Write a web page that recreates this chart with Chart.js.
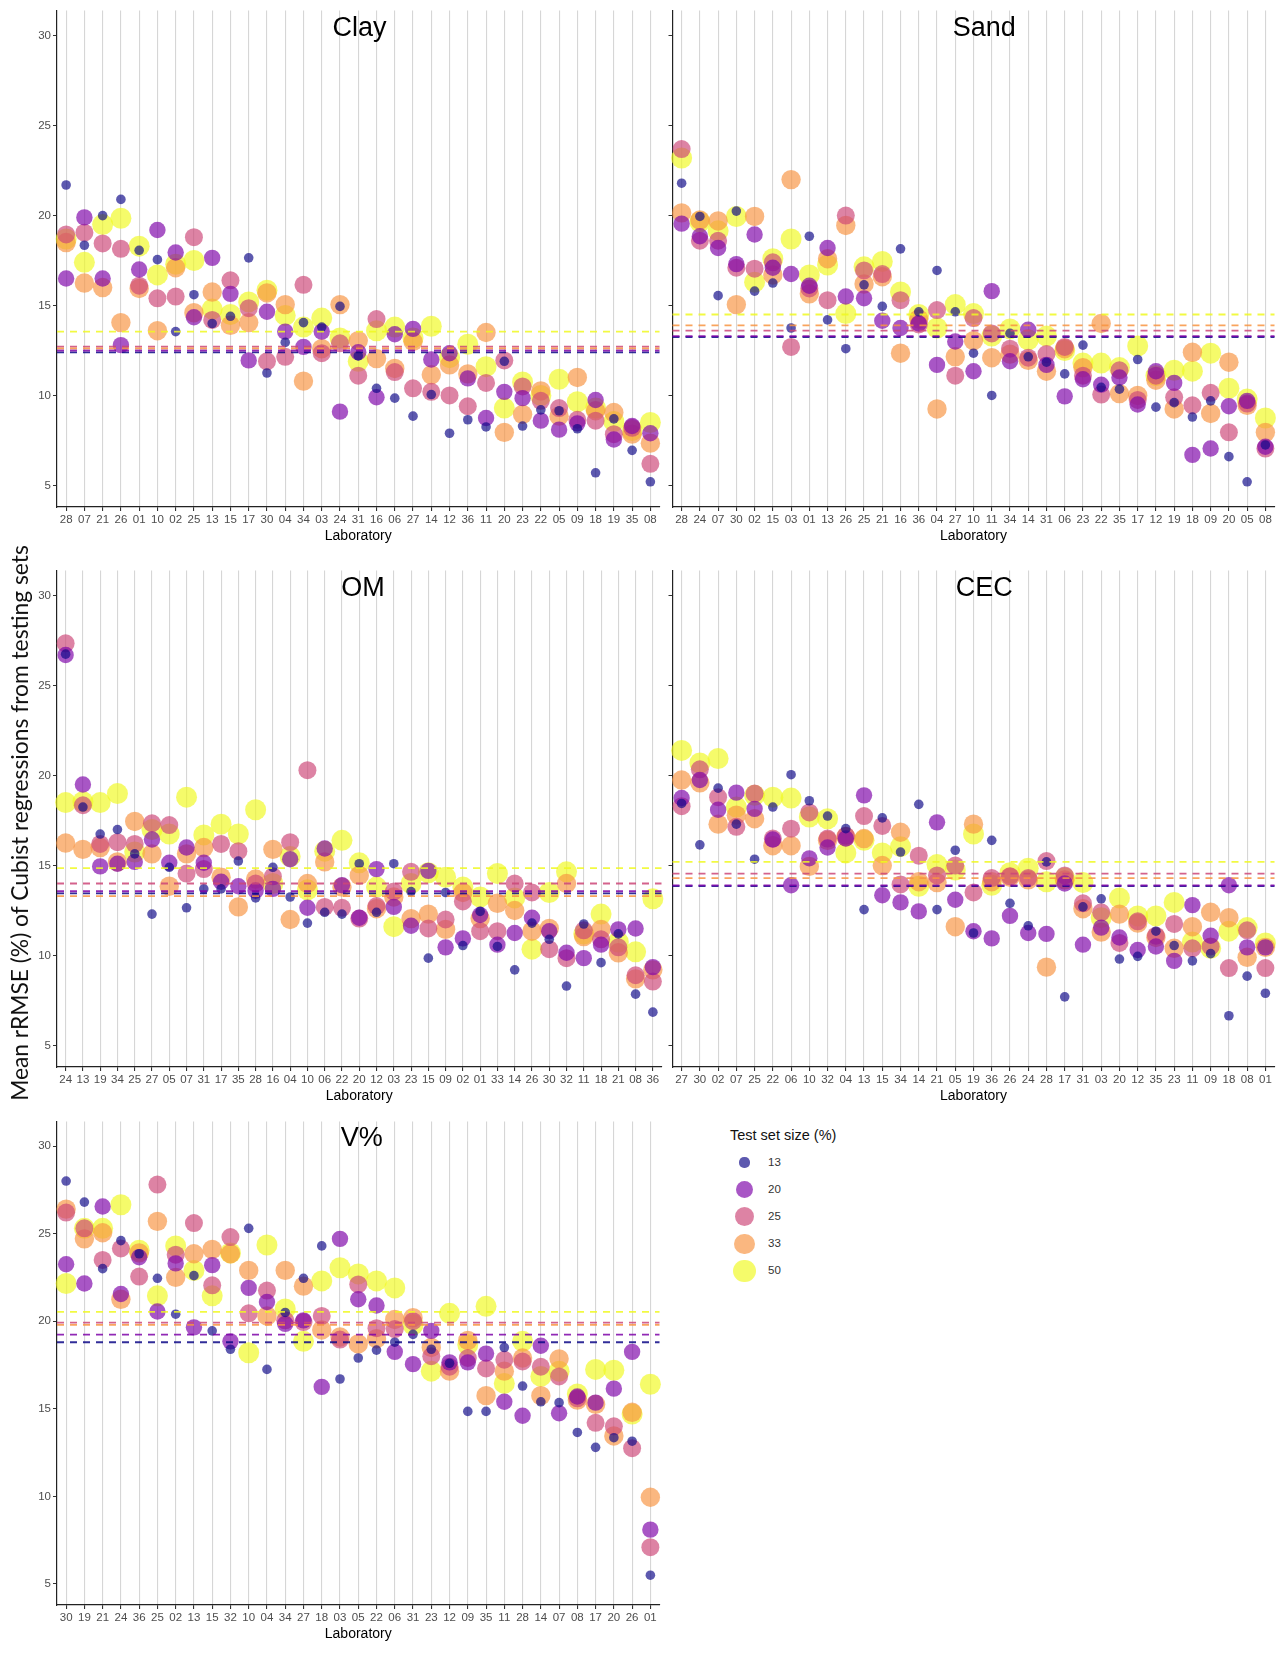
<!DOCTYPE html>
<html>
<head>
<meta charset="utf-8">
<script src="https://cdn.jsdelivr.net/npm/chart.js@4.4.1/dist/chart.umd.min.js"></script>
<style>
  body { margin: 0; background: #fff; width: 1285px; height: 1657px; position: relative; overflow: hidden;
         font-family: 'Liberation Sans', Arial, sans-serif; }
  .panel { position: absolute; }
  #ytitle { position: absolute; left: -301px; top: 806px; width: 640px; height: 34px; line-height: 34px;
            text-align: center; white-space: nowrap; transform: rotate(-90deg);
            font-family: Lato, 'Open Sans', sans-serif; font-size: 22.8px; color: #111; }
  #legend { position: absolute; left: 0; top: 0; }
  .lg-title { position: absolute; left: 730px; top: 1127px; font-size: 14.5px; color: #111; white-space: nowrap; }
  .lg-dot { position: absolute; border-radius: 50%; }
  .lg-lab { position: absolute; left: 768px; font-size: 11.5px; color: #333; white-space: nowrap; }
</style>
</head>
<body>
<div class="panel" style="left:30px;top:0;width:640px;height:545px"><canvas id="clay"></canvas></div>
<div class="panel" style="left:662px;top:0;width:623px;height:545px"><canvas id="sand"></canvas></div>
<div class="panel" style="left:30px;top:560px;width:642px;height:545px"><canvas id="om"></canvas></div>
<div class="panel" style="left:662px;top:560px;width:623px;height:545px"><canvas id="cec"></canvas></div>
<div class="panel" style="left:30px;top:1111px;width:640px;height:546px"><canvas id="vsat"></canvas></div>
<div id="ytitle">Mean rRMSE (%) of Cubist regressions from testing sets</div>
<div id="legend"><div class="lg-title">Test set size (%)</div></div>

<script>
// ---- data ----
const yTicks = [5, 10, 15, 20, 25, 30];
const testSizes = ['13', '20', '25', '33', '50'];

const clayLabs = ['28','07','21','26','01','10','02','25','13','15','17','30','04','34','03','24','31','16','06','27','14','12','36','11','20','23','22','05','09','18','19','35','08'];
const clay13 = [21.7,18.35,20.0,20.9,18.07,17.55,13.55,15.6,14.0,14.4,17.65,11.25,12.95,14.05,13.8,14.95,12.2,10.4,9.85,8.85,10.05,7.9,8.65,8.25,11.9,8.3,9.2,9.15,8.15,5.7,8.7,6.95,5.2];
const clay20 = [16.5,19.9,16.5,12.8,17.0,19.2,17.95,14.35,17.65,15.65,11.95,14.65,13.55,12.7,13.55,9.1,12.4,9.9,13.4,13.7,12.0,12.35,10.95,8.75,10.2,9.85,8.6,8.1,8.45,9.75,7.55,8.3,7.9];
const clay25 = [18.95,19.05,18.45,18.15,16.1,15.4,15.5,18.8,14.2,16.4,14.85,11.9,12.15,16.15,12.35,12.9,11.1,14.25,11.3,10.4,10.2,10.0,9.4,10.7,11.95,10.5,9.7,9.3,8.65,8.6,7.85,8.2,6.2];
const clay33 = [18.5,16.25,16.0,14.05,15.95,13.6,17.1,14.6,15.75,13.9,14.05,15.7,15.05,10.8,12.6,15.05,13.05,12.05,11.5,13.0,11.15,11.7,11.2,13.5,7.95,8.95,10.25,8.85,11.0,9.15,9.05,7.85,7.35];
const clay50 = [18.7,17.4,19.5,19.85,18.3,16.7,17.3,17.5,14.8,14.5,15.2,15.85,14.45,13.8,14.3,13.2,11.9,13.6,13.8,13.2,13.85,12.1,12.85,11.6,9.3,10.75,10.0,10.9,9.65,9.3,8.55,8.05,8.5];
const clayMeans = [12.4, 12.5, 12.72, 12.62, 13.55];

const sandLabs = ['28','24','07','30','02','15','03','01','13','26','25','21','16','36','04','27','10','11','34','14','31','06','23','22','35','17','12','19','18','09','20','05','08'];
const sand13 = [21.8,19.95,15.55,20.25,15.8,16.25,13.75,18.85,14.2,12.6,16.15,14.95,18.15,14.65,16.95,14.65,12.35,10.0,13.45,12.15,11.85,11.2,12.8,10.45,10.35,12.0,9.35,9.6,8.8,9.7,6.6,5.2,7.25];
const sand20 = [19.55,18.85,18.2,17.3,18.95,17.1,16.75,16.1,18.2,15.5,15.4,14.15,13.75,14.0,11.7,13.0,11.35,15.8,11.9,13.65,11.7,9.95,10.9,10.6,11.0,9.5,11.35,10.7,6.7,7.05,9.4,9.7,7.15];
const sand25 = [23.7,18.6,18.6,17.1,17.05,17.4,12.7,15.95,15.3,20.0,16.95,16.75,15.3,13.95,14.75,11.1,14.3,13.45,12.6,12.1,12.3,12.7,11.1,10.05,11.4,9.75,11.1,9.9,9.45,10.15,7.95,9.55,7.05];
const sand33 = [20.15,19.75,19.7,15.05,19.95,16.7,22.0,15.65,17.6,19.45,16.2,16.6,12.35,14.25,9.25,12.15,13.05,12.1,12.3,11.95,11.35,12.6,11.55,14.0,10.1,10.0,10.85,9.25,12.4,9.0,11.85,9.45,7.95];
const sand50 = [23.2,19.65,19.15,19.95,16.3,17.6,18.7,16.7,17.25,14.55,17.15,17.45,15.75,14.5,13.75,15.05,14.55,13.3,13.7,13.1,13.3,12.5,11.8,11.8,11.55,12.75,11.1,11.4,11.35,12.35,10.4,9.8,8.75];
const sandMeans = [13.25, 13.3, 13.6, 13.9, 14.5];

const omLabs = ['24','13','19','34','25','27','05','07','31','17','35','28','16','04','10','06','22','20','12','03','23','15','09','02','01','33','14','26','30','32','11','18','21','08','36'];
const om13 = [26.75,18.25,16.75,17.0,15.65,12.3,14.9,12.65,13.7,13.7,15.25,13.2,14.9,13.25,11.8,12.4,12.3,15.1,12.4,15.1,13.55,9.85,13.5,10.55,12.45,10.5,9.2,11.8,10.9,8.3,11.75,9.6,11.2,7.85,6.85];
const om20 = [26.7,19.5,14.95,15.1,15.2,16.45,15.15,16.0,15.15,14.1,13.85,13.6,13.7,15.35,12.65,15.95,13.9,12.1,14.8,12.7,11.65,14.7,10.45,10.95,12.25,10.6,11.25,12.1,11.35,10.15,9.85,10.6,11.45,11.5,9.35];
const om25 = [27.35,18.35,16.2,16.3,16.2,17.35,17.25,14.55,14.8,16.2,15.8,14.0,14.4,16.3,20.3,12.7,12.65,12.05,12.75,13.55,14.65,11.5,12.0,13.0,11.35,11.35,14.0,13.5,10.35,9.85,11.4,10.9,10.45,8.9,8.55];
const om33 = [16.25,15.9,16.0,15.2,17.45,15.65,13.85,15.65,16.0,14.35,12.7,14.25,15.9,12.0,14.0,15.2,13.8,14.45,12.6,13.25,12.05,12.3,11.45,13.5,12.05,12.9,12.5,11.35,11.5,14.0,11.05,11.45,10.15,8.7,9.2];
const om50 = [18.5,18.55,18.5,19.0,15.75,17.0,16.75,18.8,16.7,17.3,16.75,18.1,14.0,15.5,13.65,15.8,16.4,15.15,13.8,11.6,14.0,14.6,14.35,13.8,13.25,14.55,13.2,10.35,13.5,14.65,11.2,12.3,10.75,10.2,13.15];
const omMeans = [13.45, 13.57, 14.0, 13.3, 14.85];

const cecLabs = ['27','30','02','07','25','22','06','10','32','04','13','15','34','14','21','05','19','36','26','24','28','17','31','03','20','12','35','23','11','09','18','08','01'];
const cec13 = [18.45,16.15,19.3,17.3,15.35,18.25,20.05,18.6,17.75,17.05,12.55,17.65,15.75,18.4,12.55,15.85,11.25,16.4,12.9,11.65,15.2,7.7,12.7,13.15,9.8,9.95,11.35,10.55,9.7,10.1,6.65,8.85,7.9];
const cec20 = [18.75,19.75,18.1,19.05,18.15,16.45,13.9,15.4,16.0,16.5,18.9,13.35,12.95,12.45,17.4,13.1,11.35,10.95,12.2,11.25,11.2,14.0,10.6,11.55,11.0,10.3,10.5,9.7,12.8,11.1,13.9,10.45,10.45];
const cec25 = [18.3,20.35,18.8,17.15,19.0,16.5,17.05,17.95,16.5,16.65,17.75,17.2,13.95,15.55,14.45,15.0,13.5,14.3,14.4,14.3,15.25,14.45,12.9,12.4,10.7,11.9,11.1,11.75,10.4,10.5,9.3,11.4,9.3];
const cec33 = [19.75,19.6,17.3,17.8,17.6,16.1,16.1,14.95,16.4,16.6,16.5,15.0,16.85,14.1,14.05,11.6,17.3,14.1,14.35,14.2,9.35,14.2,12.6,11.3,12.3,11.8,11.0,10.4,11.6,12.4,12.1,9.9,10.45];
const cec50 = [21.4,20.7,20.95,18.25,18.9,18.8,18.75,17.7,17.6,15.7,16.4,15.7,16.05,13.85,15.05,14.75,16.75,13.9,14.6,14.85,14.1,14.3,14.05,12.1,13.2,12.2,12.2,12.95,10.75,10.4,11.35,11.55,10.7];
const cecMeans = [13.85, 13.9, 14.55, 14.3, 15.2];

const vLabs = ['30','19','21','24','36','25','02','13','15','32','10','04','34','27','18','03','05','22','06','31','23','12','09','35','11','28','14','07','08','17','20','26','01'];
const v13 = [28.0,26.8,23.0,24.6,23.85,22.45,20.4,22.6,19.45,18.4,25.3,17.25,20.5,22.45,24.3,16.7,17.9,18.35,18.8,19.25,18.4,17.6,14.85,14.85,18.5,16.3,15.4,15.35,13.65,12.8,13.35,13.15,5.5];
const v20 = [23.25,22.15,26.55,21.55,23.65,20.55,23.3,19.65,23.2,18.85,21.9,21.1,19.85,20.05,16.25,24.7,21.25,20.9,18.25,17.55,19.45,17.65,17.65,18.15,15.4,14.6,18.6,14.75,15.7,15.35,16.15,18.25,8.1];
const v25 = [26.2,25.3,23.5,24.15,22.55,27.8,23.8,25.6,22.05,24.8,20.45,21.75,20.05,19.95,20.3,18.95,22.1,19.6,19.55,20.0,18.0,17.4,17.9,17.3,17.8,17.7,17.4,16.85,15.6,14.2,14.0,12.75,7.1];
const v33 = [26.4,24.7,25.05,21.25,23.9,25.7,22.5,23.85,24.1,23.85,22.9,20.3,22.9,22.0,19.5,19.1,18.7,19.0,20.1,20.2,18.5,17.15,18.9,15.75,17.15,17.9,15.75,17.85,15.5,15.25,13.45,14.8,9.95];
const v50 = [22.15,25.3,25.3,26.65,24.05,21.45,24.3,22.9,21.45,23.9,18.2,24.35,20.7,18.85,22.3,23.05,22.7,22.3,21.9,19.8,17.15,20.45,18.65,20.85,16.45,18.85,16.85,17.15,15.85,17.25,17.2,14.7,16.4];
const vMeans = [18.8, 19.23, 19.92, 19.79, 20.53];

// ---- styles ----
const FONT = "'Liberation Sans', Arial, sans-serif";
const plasma = ['13,8,135', '126,3,168', '204,70,120', '248,148,65', '240,249,33'];
const dotRadius = [4.8, 8.2, 9.0, 9.7, 10.5];
const dotAlpha = 0.67;

function drawPanel(canvasId, title, titleFrac, labels, series, means, showY, yWidth, pad) {
    const datasets = series.map((vals, i) => ({
        label: testSizes[i],
        data: vals,
        showLine: false,
        pointRadius: dotRadius[i],
        pointHoverRadius: dotRadius[i],
        pointBorderWidth: 0,
        pointBackgroundColor: 'rgba(' + plasma[i] + ',' + dotAlpha + ')',
        borderColor: 'rgba(' + plasma[i] + ',' + dotAlpha + ')',
        clip: false
    }));

    // dashed mean lines, drawn across the whole panel
    const meanLines = {
        id: 'meanLines',
        afterDatasetsDraw(chart) {
            const {ctx, chartArea} = chart;
            const y = chart.scales.y;
            ctx.save();
            ctx.lineWidth = 1.8;
            ctx.setLineDash([7, 6]);
            means.forEach((m, i) => {
                const py = y.getPixelForValue(m);
                ctx.strokeStyle = 'rgba(' + plasma[i] + ',0.85)';
                ctx.beginPath();
                ctx.moveTo(chartArea.left, py);
                ctx.lineTo(chartArea.right, py);
                ctx.stroke();
            });
            ctx.restore();
        }
    };

    const panelTitle = {
        id: 'panelTitle',
        afterDraw(chart) {
            const {ctx, chartArea} = chart;
            ctx.save();
            ctx.font = '27px ' + FONT;
            ctx.fillStyle = '#000';
            ctx.textAlign = 'center';
            ctx.textBaseline = 'middle';
            const x = chartArea.left + titleFrac * (chartArea.right - chartArea.left);
            ctx.fillText(title, x, chart.scales.y.getPixelForValue(30.4));
            ctx.restore();
        }
    };

    const config = {
        type: 'line',
        data: { labels: labels, datasets: datasets },
        options: {
            responsive: true,
            maintainAspectRatio: false,
            animation: false,
            events: [],
            layout: { padding: pad },
            plugins: { legend: { display: false }, tooltip: { enabled: false } },
            scales: {
                x: {
                    type: 'category',
                    offset: true,
                    grid: { offset: false, color: '#d6d6d6', lineWidth: 1.1, tickColor: '#333', tickLength: 4 },
                    border: { color: '#222', width: 1.2 },
                    ticks: { color: '#4d4d4d', font: { size: 11.5, family: FONT }, padding: 2, autoSkip: false, maxRotation: 0 },
                    title: { display: true, text: 'Laboratory', color: '#000', font: { size: 14, family: FONT }, padding: 0 },
                    afterFit: s => { s.height = 38; }
                },
                y: {
                    min: 3.8,
                    max: 31.4,
                    afterBuildTicks: s => { s.ticks = yTicks.map(v => ({ value: v })); },
                    grid: { drawOnChartArea: false, color: '#333', tickLength: 4 },
                    border: { color: '#222', width: 1.2 },
                    ticks: { color: '#4d4d4d', font: { size: 11.5, family: FONT }, padding: 2,
                             callback: v => showY ? String(v) : '' },
                    afterFit: s => { s.width = yWidth; }
                }
            }
        },
        plugins: [meanLines, panelTitle]
    };
    return new Chart(document.getElementById(canvasId), config);
}

drawPanel('clay', 'Clay', 0.502, clayLabs, [clay13, clay20, clay25, clay33, clay50], clayMeans, true, 27,
          { top: 5, right: 6, left: 0, bottom: 0 });
drawPanel('sand', 'Sand', 0.518, sandLabs, [sand13, sand20, sand25, sand33, sand50], sandMeans, false, 10,
          { top: 5, right: 3, left: 0, bottom: 0 });
drawPanel('om', 'OM', 0.506, omLabs, [om13, om20, om25, om33, om50], omMeans, true, 27,
          { top: 5, right: 6, left: 0, bottom: 0 });
drawPanel('cec', 'CEC', 0.518, cecLabs, [cec13, cec20, cec25, cec33, cec50], cecMeans, false, 10,
          { top: 5, right: 3, left: 0, bottom: 0 });
drawPanel('vsat', 'V%', 0.506, vLabs, [v13, v20, v25, v33, v50], vMeans, true, 27,
          { top: 5, right: 6, left: 0, bottom: 14 });

// legend for test set size
const legend = document.getElementById('legend');
testSizes.forEach((s, i) => {
    const cy = 1162.5 + i * 27.1;
    const r = dotRadius[i] * 1.06;
    const dot = document.createElement('div');
    dot.className = 'lg-dot';
    dot.style.left = (744.5 - r) + 'px';
    dot.style.top = (cy - r) + 'px';
    dot.style.width = (2 * r) + 'px';
    dot.style.height = (2 * r) + 'px';
    dot.style.background = 'rgba(' + plasma[i] + ',' + dotAlpha + ')';
    legend.appendChild(dot);
    const lab = document.createElement('div');
    lab.className = 'lg-lab';
    lab.style.top = (cy - 7) + 'px';
    lab.textContent = s;
    legend.appendChild(lab);
});
</script>
</body>
</html>
